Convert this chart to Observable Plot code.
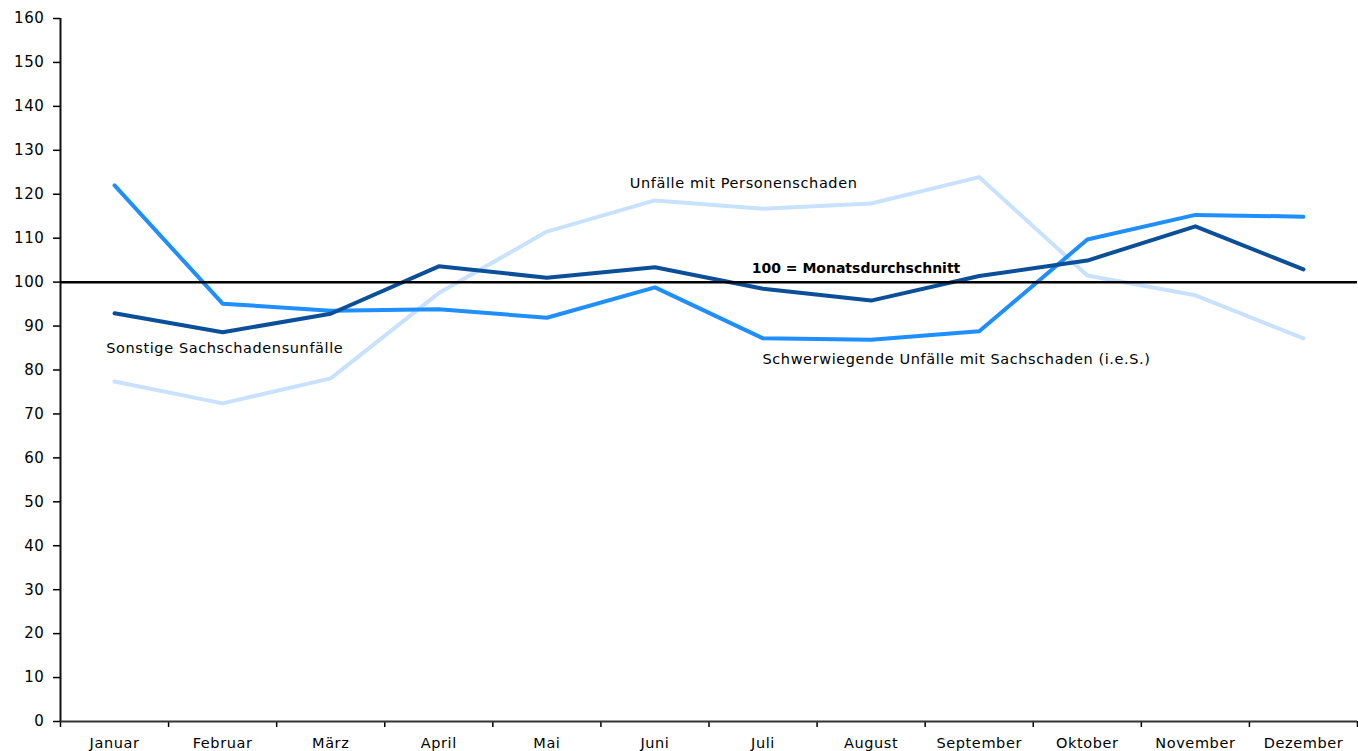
<!DOCTYPE html>
<html>
<head>
<meta charset="utf-8">
<script src="https://cdn.jsdelivr.net/npm/d3@7"></script>
<script src="https://cdn.jsdelivr.net/npm/@observablehq/plot@0.6"></script>
<style>
  html, body { margin: 0; padding: 0; background: #fff; }
  #chart svg text { letter-spacing: 0.6px; }
  #chart svg g.ref-label text { letter-spacing: 0px; }
</style>
</head>
<body>
<div id="chart"></div>
<script>
const months = ["Januar", "Februar", "März", "April", "Mai", "Juni", "Juli", "August", "September", "Oktober", "November", "Dezember"];
const personenschaden = [77.4, 72.4, 78.1, 97.5, 111.5, 118.6, 116.7, 117.9, 123.9, 101.5, 97.0, 87.2];
const schwerwiegend = [122.0, 95.1, 93.5, 93.8, 91.9, 98.8, 87.2, 86.9, 88.8, 109.7, 115.3, 114.9];
const sonstige = [92.9, 88.6, 92.8, 103.6, 101.0, 103.4, 98.5, 95.8, 101.4, 104.9, 112.7, 102.9];
const yTicks = [0, 10, 20, 30, 40, 50, 60, 70, 80, 90, 100, 110, 120, 130, 140, 150, 160];
const reference = 100;

const rows = (vals) => vals.map((v, i) => ({m: i + 0.5, v}));
const monthPos = months.map((_, i) => i + 0.5);
const boundaries = d3.range(months.length + 1);

const font = "'DejaVu Sans', Verdana, sans-serif";

const chart = Plot.plot({
  width: 1358,
  height: 751,
  marginLeft: 60,
  marginRight: 1,
  marginTop: 18,
  marginBottom: 30,
  style: {fontFamily: font, fontSize: "14.5px", color: "#000", background: "#fff", overflow: "visible"},
  x: {domain: [0, 12]},
  y: {domain: [0, 160]},
  marks: [
    Plot.axisY({ticks: yTicks, tickSize: 7, tickPadding: 9, label: null, strokeWidth: 1.5, fontSize: 15}),
    Plot.axisX({ticks: boundaries, tickFormat: () => "", tickSize: 6, label: null, strokeWidth: 1.5}),
    Plot.axisX(monthPos, {tickSize: 0, tickPadding: 16, tickFormat: (d) => months[Math.floor(d)], label: null, fontSize: 14.5}),
    Plot.ruleX([0], {stroke: "#111", strokeWidth: 2}),
    Plot.ruleY([0], {stroke: "#333", strokeWidth: 2}),
    Plot.lineY(rows(personenschaden), {x: "m", y: "v", stroke: "#c8e2fd", strokeWidth: 4}),
    Plot.lineY(rows(schwerwiegend), {x: "m", y: "v", stroke: "#1f8fff", strokeWidth: 4}),
    Plot.lineY(rows(sonstige), {x: "m", y: "v", stroke: "#0a4f98", strokeWidth: 4}),
    Plot.ruleY([reference], {stroke: "#000", strokeWidth: 2.5}),
    Plot.text(["Unfälle mit Personenschaden"], {x: 6.32, y: 122.4, text: (d) => d, fontSize: 14.5, fill: "#000"}),
    Plot.text(["100 = Monatsdurchschnitt"], {x: 7.36, y: 103.2, text: (d) => d, fontSize: 14, fontWeight: "bold", fill: "#000", className: "ref-label"}),
    Plot.text(["Sonstige Sachschadensunfälle"], {x: 1.52, y: 84.9, text: (d) => d, fontSize: 14.5, fill: "#000"}),
    Plot.text(["Schwerwiegende Unfälle mit Sachschaden (i.e.S.)"], {x: 8.29, y: 82.4, text: (d) => d, fontSize: 14.5, fill: "#000"})
  ]
});
document.getElementById("chart").appendChild(chart);
</script>
</body>
</html>
